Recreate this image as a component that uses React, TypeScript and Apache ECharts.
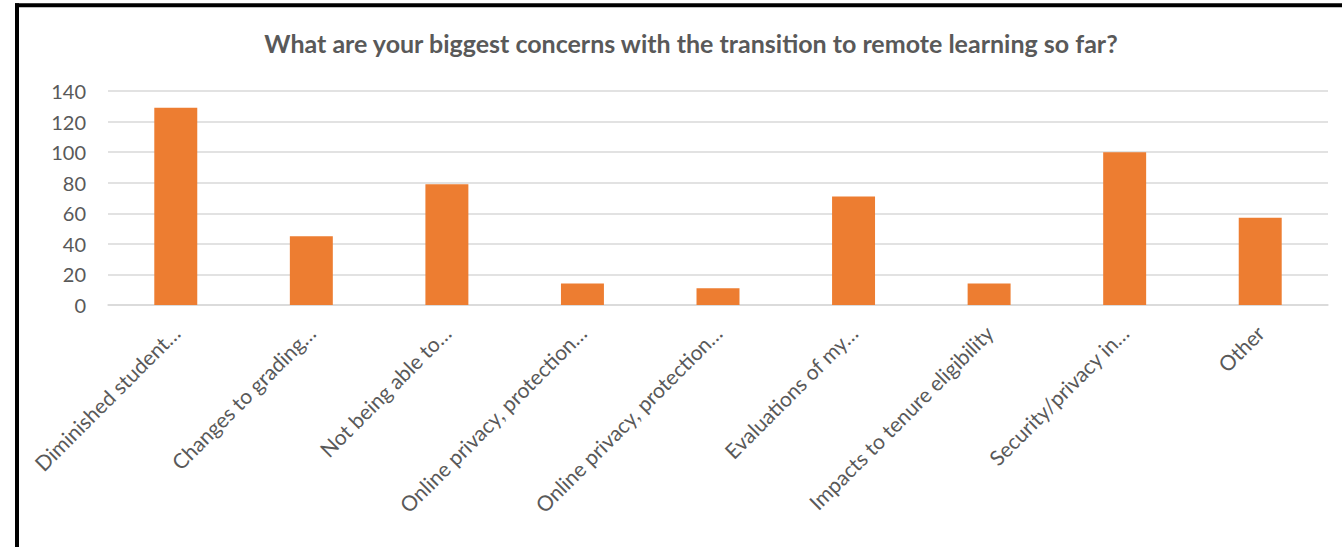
import React, { useEffect, useRef } from "react";
import * as echarts from "echarts";

const title = "What are your biggest concerns with the transition to remote learning so far?";
const categories = [
  "Diminished student…",
  "Changes to grading…",
  "Not being able to…",
  "Online privacy, protection…",
  "Online privacy, protection…",
  "Evaluations of my…",
  "Impacts to tenure eligibility",
  "Security/privacy in…",
  "Other",
];
const values = [129, 45, 79, 14, 11, 71, 14, 100, 57];
const yMin = 0;
const yMax = 140;
const yStep = 20;

const TEXT = "#595959";
const FONT = "Lato, 'Open Sans', sans-serif";

export default function App() {
  const ref = useRef<HTMLDivElement>(null);
  useEffect(() => {
    if (!ref.current) return;
    const chart = echarts.init(ref.current, null, { renderer: "svg" });
    chart.setOption({
      animation: false,
      backgroundColor: "#ffffff",
      title: {
        text: title,
        left: 686,
        top: 25,
        textAlign: "center",
        textStyle: { color: TEXT, fontFamily: FONT, fontWeight: "bold", fontSize: 25 },
      },
      graphic: [
        { type: "line", shape: { x1: 15, y1: 5.3, x2: 1342, y2: 5.3 }, style: { stroke: "#000", lineWidth: 4 } },
        { type: "line", shape: { x1: 17, y1: 3.3, x2: 17, y2: 547 }, style: { stroke: "#000", lineWidth: 4 } },
      ],
      grid: { left: 108, right: 14, top: 91, bottom: 242, containLabel: false },
      xAxis: {
        type: "category",
        data: categories,
        axisLine: { show: true, lineStyle: { color: "#d9d9d9", width: 1.5 } },
        axisTick: { show: false },
        axisLabel: {
          interval: 0,
          rotate: 45,
          margin: 24,
          color: TEXT,
          fontFamily: FONT,
          fontSize: 21,
        },
      },
      yAxis: {
        type: "value",
        min: yMin,
        max: yMax,
        interval: yStep,
        axisLine: { show: false },
        axisTick: { show: false },
        splitLine: { lineStyle: { color: "#d9d9d9", width: 1.5 } },
        axisLabel: { margin: 22, color: TEXT, fontFamily: FONT, fontSize: 20 },
      },
      series: [
        {
          type: "bar",
          data: values,
          barWidth: "31.7%",
          itemStyle: { color: "#ED7D31" },
        },
      ],
    });
    return () => chart.dispose();
  }, []);
  return (
    <div
      ref={ref}
      style={{ position: "fixed", left: 0, top: 0, width: 1342, height: 547, background: "#fff" }}
    />
  );
}
